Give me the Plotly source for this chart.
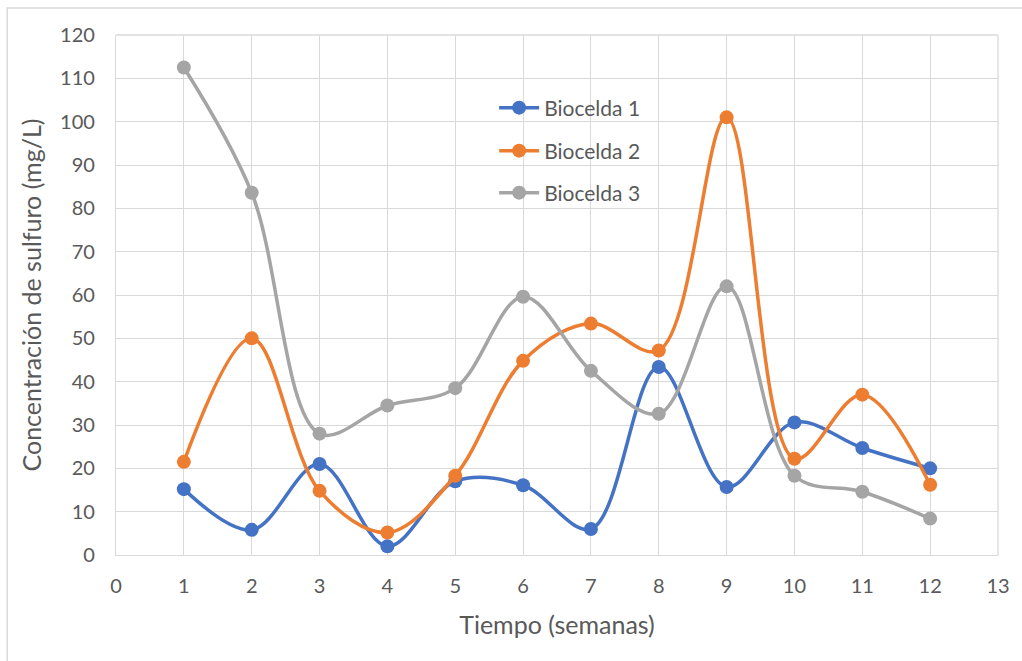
import plotly.graph_objects as go

semanas = [1, 2, 3, 4, 5, 6, 7, 8, 9, 10, 11, 12]
biocelda_1 = [15.2, 5.8, 21.0, 2.0, 17.0, 16.1, 6.0, 43.4, 15.7, 30.6, 24.7, 20.0]
biocelda_2 = [21.5, 50.0, 14.8, 5.2, 18.3, 44.8, 53.4, 47.2, 101.0, 22.2, 37.0, 16.2]
biocelda_3 = [112.5, 83.6, 28.0, 34.5, 38.5, 59.6, 42.5, 32.6, 62.0, 18.3, 14.6, 8.4]
nombres = ["Biocelda 1", "Biocelda 2", "Biocelda 3"]
colores = ["#4472C4", "#ED7D31", "#A5A5A5"]
x_ticks = list(range(0, 14))
y_ticks = list(range(0, 121, 10))

W, H = 1022, 661
L, R, T, B = 116, 22, 35, 106
pw, ph = W - L - R, H - T - B

def px(xp):
    return (xp - L) / pw

def py(yp):
    return 1 - (yp - T) / ph

FONT = "Lato"
TXT = "#595959"

fig = go.Figure()
legends = ["legend2", "legend3", "legend4"]
for serie, nombre, color, lg in zip([biocelda_1, biocelda_2, biocelda_3], nombres, colores, legends):
    fig.add_trace(go.Scatter(
        x=semanas, y=serie, name=nombre, mode="lines+markers",
        line=dict(color=color, width=3.5, shape="spline", smoothing=1),
        marker=dict(color=color, size=14),
        legend=lg, showlegend=True,
    ))

leg_common = dict(bgcolor="rgba(0,0,0,0)", font=dict(family=FONT, size=21, color=TXT),
                  xanchor="left", yanchor="middle", itemwidth=40, visible=True)
leg_ys = [108, 151, 193]
leg_x = px(495)

axis_common = dict(showgrid=True, gridcolor="#D9D9D9", gridwidth=1.3,
                   zeroline=False, showline=True, linecolor="#D9D9D9", linewidth=1.3,
                   ticks="", tickfont=dict(family=FONT, size=20, color=TXT),
                   mirror=False)

fig.update_layout(
    width=W, height=H,
    margin=dict(l=L, r=R, t=T, b=B, pad=0),
    paper_bgcolor="white", plot_bgcolor="white",
    legend2=dict(x=leg_x, y=py(leg_ys[0]), **leg_common),
    legend3=dict(x=leg_x, y=py(leg_ys[1]), **leg_common),
    legend4=dict(x=leg_x, y=py(leg_ys[2]), **leg_common),
    xaxis=dict(range=[0, 13], tickvals=x_ticks, ticklabelstandoff=13,
               title=dict(text="Tiempo (semanas)", font=dict(family=FONT, size=25, color=TXT), standoff=20),
               **axis_common),
    yaxis=dict(range=[0, 120], tickvals=y_ticks, ticklabelstandoff=16,
               title=dict(text="Concentración de sulfuro (mg/L)", font=dict(family=FONT, size=25, color=TXT), standoff=11),
               **axis_common),
    shapes=[
        dict(type="rect", xref="paper", yref="paper",
             x0=px(7), x1=px(1030), y0=py(670), y1=py(8),
             line=dict(color="#D9D9D9", width=1.5), fillcolor="rgba(0,0,0,0)", layer="below"),
        dict(type="line", xref="paper", yref="paper", x0=0, x1=1, y0=1, y1=1,
             line=dict(color="#D9D9D9", width=1.3), layer="below"),
        dict(type="line", xref="paper", yref="paper", x0=1, x1=1, y0=0, y1=1,
             line=dict(color="#D9D9D9", width=1.3), layer="below"),
    ],
)

fig.write_html("out.html")
